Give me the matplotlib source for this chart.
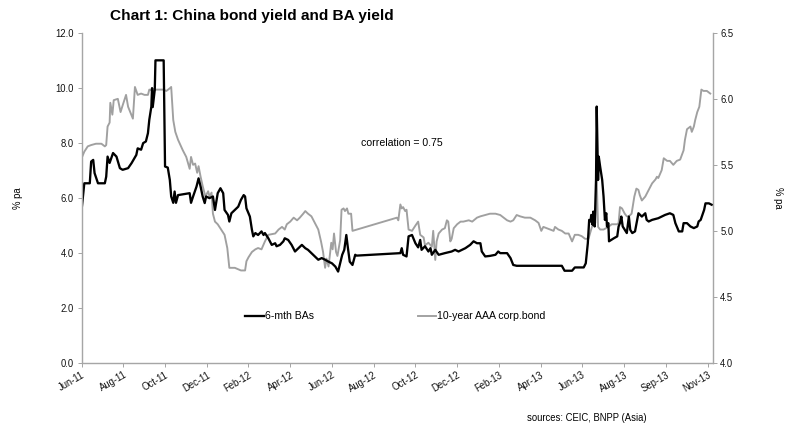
import matplotlib
matplotlib.use('Agg')
import matplotlib.pyplot as plt
from matplotlib.ticker import FormatStrFormatter, MultipleLocator

plt.rcParams['font.family'] = ['Liberation Sans', 'DejaVu Sans']

# x = days since start of the chart (Jun-11), axis ticks every 61 days
tick_labels = ['Jun-11', 'Aug-11', 'Oct-11', 'Dec-11', 'Feb-12', 'Apr-12', 'Jun-12', 'Aug-12',
               'Oct-12', 'Dec-12', 'Feb-13', 'Apr-13', 'Jun-13', 'Aug-13', 'Sep-13', 'Nov-13']
tick_step = 61

# 6-mth BAs (% pa, left axis)
ba_day = [0, 4, 12, 14, 17, 19, 24, 34, 36, 38, 41, 46, 51, 56, 60, 68, 73, 80, 82, 87,
          90, 94, 97, 99, 102, 103, 104, 107, 108, 120, 122, 126, 129, 131, 134, 136, 138, 141, 158, 160,
          163, 168, 171, 174, 177, 180, 182, 187, 192, 195, 199, 203, 207, 209, 214, 216, 219, 224, 229, 233,
          237, 239, 241, 244, 246, 249, 251, 254, 258, 263, 266, 268, 273, 278, 283, 285, 290, 295, 297, 302,
          307, 312, 317, 322, 327, 331, 336, 341, 346, 351, 356, 361, 366, 371, 375, 378, 381, 384, 387, 389,
          392, 396, 400, 402, 466, 468, 470, 475, 478, 483, 488, 492, 495, 497, 502, 507, 510, 512, 517, 522,
          531, 541, 546, 551, 561, 568, 573, 578, 583, 585, 590, 597, 605, 609, 612, 622, 627, 631, 636, 702,
          706, 717, 721, 734, 737, 740, 742, 744, 745, 747, 748, 750, 752, 753, 755, 756, 758, 761, 763, 765,
          767, 768, 770, 771, 778, 783, 785, 787, 789, 791, 794, 797, 800, 802, 805, 809, 814, 819, 824, 826,
          829, 834, 843, 853, 860, 865, 868, 873, 878, 880, 885, 890, 895, 900, 902, 905, 910, 912, 917, 921]
ba_val = [5.56, 6.53, 6.53, 7.32, 7.38, 6.9, 6.53, 6.53, 6.77, 7.5, 7.27, 7.63, 7.5, 7.08, 7.02, 7.08, 7.26, 7.56, 7.8, 7.75,
          7.99, 8.05, 8.35, 8.84, 9.32, 9.99, 9.3, 9.93, 11.0, 11.0, 7.14, 7.1, 6.65, 6.05, 5.82, 6.23, 5.82, 6.1, 6.17, 5.82,
          6.05, 6.41, 6.71, 6.41, 6.05, 5.81, 6.05, 5.99, 6.05, 5.56, 6.17, 6.35, 6.17, 5.56, 5.38, 5.14, 5.44, 5.56, 5.68, 5.93,
          6.1, 6.05, 5.62, 5.44, 5.32, 4.84, 4.6, 4.72, 4.65, 4.78, 4.65, 4.72, 4.53, 4.29, 4.35, 4.24, 4.29, 4.42, 4.53, 4.47,
          4.29, 4.05, 4.17, 4.29, 4.17, 4.11, 3.99, 3.87, 3.75, 3.81, 3.75, 3.68, 3.62, 3.5, 3.32, 3.62, 3.93, 4.11, 4.65, 4.24,
          3.68, 3.56, 3.93, 3.9, 3.99, 4.17, 3.93, 3.87, 4.6, 4.65, 4.35, 4.2, 4.47, 4.11, 4.24, 4.05, 4.17, 3.93, 4.11, 3.93,
          3.99, 4.05, 4.11, 4.05, 4.17, 4.29, 4.42, 4.35, 4.35, 4.05, 3.87, 3.89, 3.93, 4.05, 3.99, 3.99, 3.81, 3.56, 3.53, 3.53,
          3.35, 3.35, 3.47, 3.47, 3.62, 4.35, 5.2, 5.14, 5.38, 5.02, 5.5, 4.96, 6.65, 9.32, 6.65, 7.5, 7.14, 6.65, 6.05, 5.2,
          5.44, 4.96, 5.08, 4.42, 4.53, 4.6, 4.96, 5.08, 5.32, 4.96, 4.84, 4.72, 5.32, 4.84, 4.72, 4.78, 5.44, 5.32, 5.44, 5.2,
          5.14, 5.2, 5.26, 5.38, 5.44, 5.38, 5.08, 4.78, 4.78, 5.08, 5.08, 4.96, 4.9, 4.96, 5.14, 5.2, 5.56, 5.8, 5.8, 5.75]

# 10-year AAA corp.bond (% pa, right axis)
bond_day = [0, 4, 9, 14, 21, 29, 34, 36, 38, 41, 42, 45, 47, 53, 57, 60, 65, 68, 75, 78,
            82, 87, 92, 97, 99, 104, 109, 119, 124, 129, 131, 134, 137, 141, 148, 153, 158, 160, 163, 166,
            169, 171, 174, 177, 181, 185, 187, 190, 192, 195, 199, 204, 209, 213, 216, 224, 233, 239, 241, 244,
            249, 254, 258, 263, 268, 273, 283, 288, 293, 297, 300, 305, 310, 315, 319, 324, 327, 331, 336, 341,
            346, 350, 353, 356, 358, 361, 365, 367, 369, 372, 374, 378, 380, 383, 385, 388, 390, 394, 396, 461,
            463, 466, 468, 470, 473, 475, 478, 483, 488, 492, 495, 500, 502, 507, 512, 514, 517, 519, 522, 527,
            531, 534, 536, 539, 541, 544, 549, 554, 558, 566, 571, 578, 583, 590, 597, 605, 612, 617, 622, 627,
            631, 636, 641, 648, 656, 663, 668, 672, 675, 680, 685, 690, 692, 697, 702, 707, 712, 717, 721, 726,
            731, 736, 741, 746, 751, 753, 755, 758, 763, 770, 775, 783, 785, 787, 790, 794, 797, 800, 804, 808,
            811, 814, 816, 819, 824, 829, 834, 839, 841, 843, 848, 851, 856, 860, 865, 870, 875, 880, 882, 885,
            890, 892, 895, 897, 900, 903, 906, 909, 914, 919]
bond_val = [5.55, 5.6, 5.64, 5.65, 5.66, 5.66, 5.64, 5.65, 5.79, 5.82, 5.97, 5.88, 5.99, 6.0, 5.9, 5.95, 6.03, 5.94, 5.85, 6.09,
            6.03, 6.04, 6.03, 6.03, 6.07, 6.06, 6.07, 6.07, 6.06, 6.08, 6.09, 5.84, 5.75, 5.69, 5.61, 5.56, 5.47, 5.56, 5.5, 5.51,
            5.44, 5.49, 5.41, 5.34, 5.26, 5.3, 5.26, 5.29, 5.13, 5.07, 5.05, 5.01, 4.97, 4.87, 4.72, 4.72, 4.7, 4.7, 4.77, 4.8,
            4.84, 4.86, 4.87, 4.86, 4.92, 4.97, 4.98, 5.01, 5.03, 5.01, 5.05, 5.07, 5.1, 5.08, 5.1, 5.13, 5.15, 5.13, 5.11, 5.06,
            5.01, 4.92, 4.84, 4.72, 4.79, 4.73, 4.91, 4.86, 4.98, 4.84, 4.81, 4.93, 5.16, 5.17, 5.15, 5.17, 5.13, 5.13, 5.0, 5.1,
            5.08, 5.2, 5.17, 5.18, 5.15, 5.16, 5.01, 5.0, 5.04, 5.07, 4.97, 4.95, 4.89, 4.91, 4.88, 5.0, 4.78, 4.92, 4.98, 5.01,
            5.02, 5.08, 5.07, 4.92, 4.94, 5.02, 5.05, 5.07, 5.07, 5.08, 5.07, 5.1, 5.11, 5.12, 5.13, 5.13, 5.12, 5.1, 5.08, 5.07,
            5.08, 5.12, 5.11, 5.1, 5.1, 5.08, 5.06, 5.0, 5.03, 5.02, 5.01, 5.0, 5.03, 5.01, 5.0, 4.98, 4.98, 4.92, 4.97, 4.97,
            4.96, 4.94, 4.94, 5.03, 5.06, 5.39, 5.03, 5.01, 5.01, 5.03, 5.05, 5.05, 5.06, 5.18, 5.17, 5.13, 5.11, 5.11, 5.13, 5.26,
            5.32, 5.31, 5.27, 5.23, 5.26, 5.31, 5.36, 5.39, 5.41, 5.4, 5.46, 5.55, 5.53, 5.53, 5.5, 5.53, 5.54, 5.61, 5.69, 5.77,
            5.79, 5.75, 5.79, 5.84, 5.9, 5.94, 6.07, 6.06, 6.06, 6.04]

spine_col = '#a6a6a6'

fig = plt.figure(figsize=(11, 6), dpi=72)
ax = fig.add_axes([0.103, 0.16, 0.797, 0.764])
ax2 = ax.twinx()
ax.set_zorder(ax2.get_zorder() + 1)
ax.patch.set_visible(False)

l2, = ax2.plot(bond_day, bond_val, color='#a0a0a0', lw=1.9, label='10-year AAA corp.bond')
l1, = ax.plot(ba_day, ba_val, color='black', lw=2.3, label='6-mth BAs')

ax.set_xlim(0, 922.7)
ax.set_ylim(0, 12)
ax2.set_ylim(4.0, 6.5)
ax.yaxis.set_major_locator(MultipleLocator(2))
ax2.yaxis.set_major_locator(MultipleLocator(0.5))
ax.yaxis.set_major_formatter(FormatStrFormatter('%.1f'))
ax2.yaxis.set_major_formatter(FormatStrFormatter('%.1f'))

ax.set_xticks([i * tick_step for i in range(len(tick_labels))])
ax.set_xticklabels(tick_labels, rotation=30, ha='right', rotation_mode='anchor')

for a in (ax, ax2):
    a.spines['top'].set_visible(False)
    for s in ('left', 'right', 'bottom'):
        a.spines[s].set_color(spine_col)
        a.spines[s].set_linewidth(1.2)
    a.tick_params(colors=spine_col, labelcolor='#111111', labelsize=9.5, length=4, width=1)

ax.tick_params(axis='x', pad=3)
ax.set_ylabel('% pa', fontsize=9.5, labelpad=33)
ax2.set_ylabel('% pa', fontsize=9.5, rotation=270, labelpad=50)

fig.text(0.139, 0.963, 'Chart 1: China bond yield and BA yield', fontsize=15.4,
         fontweight='bold', va='center', ha='left')
ax.text(0.442, 0.665, 'correlation = 0.75', transform=ax.transAxes, fontsize=10.5, ha='left', va='center')
fig.text(0.741, 0.032, 'sources: CEIC, BNPP (Asia)', fontsize=9.5, ha='center', va='center')

fig.legend(handles=[l1, l2], loc='center left', bbox_to_anchor=(0.298, 0.268), ncol=2,
           frameon=False, fontsize=10.5, handlelength=1.75, handletextpad=0.1, columnspacing=9.9)

fig.savefig('out.png', dpi=72)
